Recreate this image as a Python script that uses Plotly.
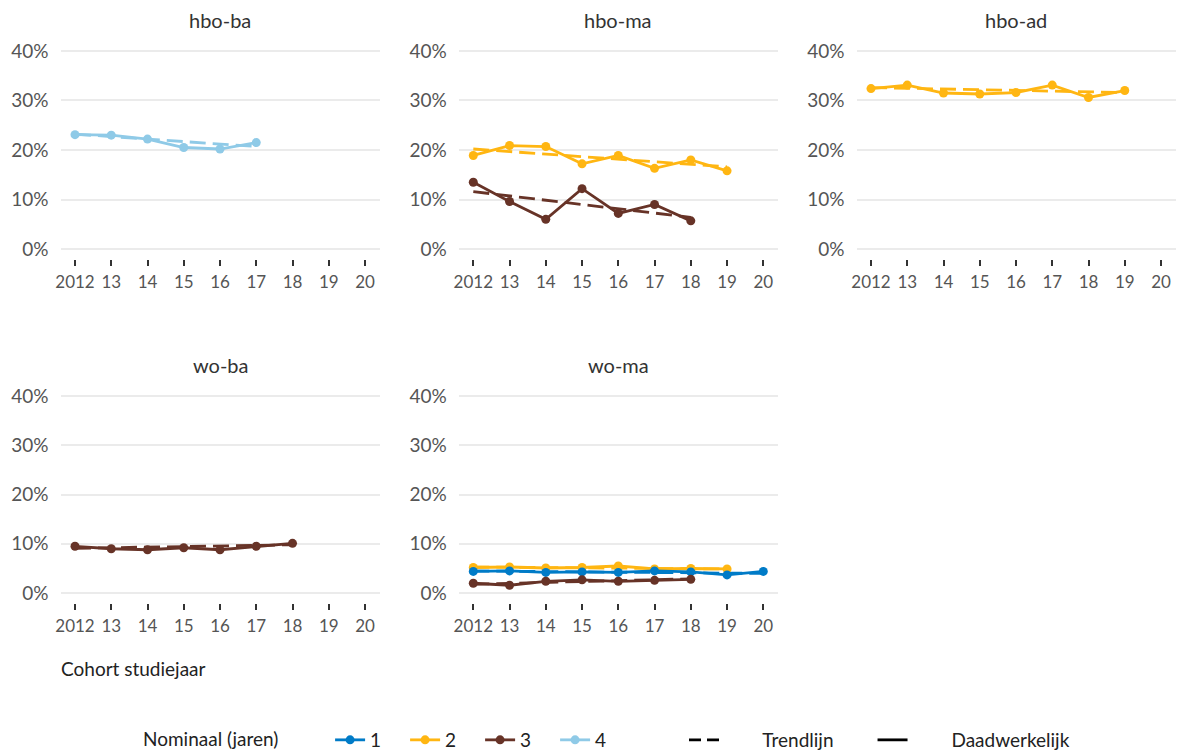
import plotly.graph_objects as go

# ---------------- data ----------------
years = [2012, 2013, 2014, 2015, 2016, 2017, 2018, 2019, 2020]
year_labels = ["2012", "13", "14", "15", "16", "17", "18", "19", "20"]
y_ticks = [0, 10, 20, 30, 40]
y_tick_labels = ["0%", "10%", "20%", "30%", "40%"]

panels = ["hbo-ba", "hbo-ma", "hbo-ad", "wo-ba", "wo-ma"]

# hbo-ba, nominaal 4 jaar
hbo_ba_4 = [23.1, 23.0, 22.2, 20.5, 20.2, 21.5]
hbo_ba_4_trend = [23.2, 20.7]
# hbo-ma, nominaal 2 en 3 jaar
hbo_ma_2 = [18.9, 20.9, 20.7, 17.2, 18.9, 16.3, 18.0, 15.8]
hbo_ma_2_trend = [20.2, 16.6]
hbo_ma_3 = [13.5, 9.6, 6.0, 12.2, 7.2, 9.0, 5.7]
hbo_ma_3_trend = [11.6, 6.4]
# hbo-ad, nominaal 2 jaar
hbo_ad_2 = [32.4, 33.1, 31.5, 31.3, 31.6, 33.1, 30.6, 32.0]
hbo_ad_2_trend = [32.6, 31.6]
# wo-ba, nominaal 3 jaar
wo_ba_3 = [9.5, 9.0, 8.8, 9.2, 8.8, 9.5, 10.1]
wo_ba_3_trend = [9.1, 9.8]
# wo-ma, nominaal 1, 2 en 3 jaar
wo_ma_1 = [4.4, 4.5, 4.2, 4.3, 4.2, 4.5, 4.3, 3.7, 4.4]
wo_ma_1_trend = [4.5, 4.0]
wo_ma_2 = [5.2, 5.3, 5.1, 5.2, 5.5, 4.9, 5.0, 4.9]
wo_ma_2_trend = [5.3, 4.9]
wo_ma_3 = [2.0, 1.6, 2.4, 2.7, 2.4, 2.6, 2.8]
wo_ma_3_trend = [1.8, 2.9]

colors = {"1": "#007bc7", "2": "#ffb612", "3": "#673327", "4": "#8fcae7"}

# (panel index, nominaal, values, trend)
series = [
    (0, "4", hbo_ba_4, hbo_ba_4_trend),
    (1, "2", hbo_ma_2, hbo_ma_2_trend),
    (1, "3", hbo_ma_3, hbo_ma_3_trend),
    (2, "2", hbo_ad_2, hbo_ad_2_trend),
    (3, "3", wo_ba_3, wo_ba_3_trend),
    (4, "2", wo_ma_2, wo_ma_2_trend),
    (4, "1", wo_ma_1, wo_ma_1_trend),
    (4, "3", wo_ma_3, wo_ma_3_trend),
]

# ---------------- layout geometry ----------------
W, H = 1179, 751
FONT = "Lato"
col_px = [(60.5, 379.5), (458.8, 777.8), (856.5, 1175.5)]
row_px = [(41, 259), (386, 603)]
panel_pos = [(0, 0), (0, 1), (0, 2), (1, 0), (1, 1)]

fig = go.Figure()

shown = set()
legend_order = {"1": 1, "2": 2, "3": 3, "4": 4}
for p, nom, vals, trend in series:
    ax = "" if p == 0 else str(p + 1)
    xs = years[:len(vals)]
    fig.add_trace(go.Scatter(
        x=[xs[0], xs[-1]], y=trend, mode="lines",
        line=dict(color=colors[nom], width=2.8, dash="16px,7px"),
        xaxis="x" + ax, yaxis="y" + ax, showlegend=False, hoverinfo="skip",
    ))
for p, nom, vals, trend in series:
    ax = "" if p == 0 else str(p + 1)
    xs = years[:len(vals)]
    fig.add_trace(go.Scatter(
        x=xs, y=vals, mode="lines+markers", name=nom,
        line=dict(color=colors[nom], width=2.8),
        marker=dict(color=colors[nom], size=9),
        xaxis="x" + ax, yaxis="y" + ax,
        legendgroup=nom, showlegend=nom not in shown,
        legendrank=legend_order[nom], legend="legend",
    ))
    shown.add(nom)

# line-type legend
pad = "&nbsp;" * 8
fig.add_trace(go.Scatter(x=[None], y=[None], mode="lines",
                         name=pad + "Trendlijn" + "&nbsp;" * 7,
                         line=dict(color="black", width=2.8, dash="12px,6px"),
                         legend="legend2", legendrank=1))
fig.add_trace(go.Scatter(x=[None], y=[None], mode="lines",
                         name=pad + "Daadwerkelijk",
                         line=dict(color="black", width=2.8),
                         legend="legend2", legendrank=2))

layout = dict(
    width=W, height=H,
    margin=dict(l=0, r=0, t=0, b=0, autoexpand=False),
    paper_bgcolor="white", plot_bgcolor="white",
    font=dict(family=FONT, size=16, color="#444"),
    showlegend=True,
)
annotations = []
for i, name in enumerate(panels):
    r, c = panel_pos[i]
    x0, x1 = col_px[c]
    y0, y1 = row_px[r]
    key = "" if i == 0 else str(i + 1)
    layout["xaxis" + key] = dict(
        domain=[x0 / W, x1 / W], range=[2011.6, 2020.4],
        anchor="y" + key, tickvals=years, ticktext=year_labels,
        showgrid=False, zeroline=False, showline=False,
        ticks="outside", ticklen=6, tickwidth=2, tickcolor="#333",
        tickfont=dict(family=FONT, size=17, color="#555"),
        ticklabelstandoff=2, fixedrange=True, automargin=False,
    )
    layout["yaxis" + key] = dict(
        domain=[1 - y1 / H, 1 - y0 / H], range=[-2, 42],
        anchor="x" + key, tickvals=y_ticks, ticktext=y_tick_labels,
        showgrid=True, gridcolor="#ebebeb", gridwidth=2,
        zeroline=False, showline=False, ticks="",
        tickfont=dict(family=FONT, size=19, color="#555"),
        ticklabelstandoff=11, fixedrange=True, automargin=False,
    )
    annotations.append(dict(
        text=name, x=(x0 + x1) / 2 / W, y=1 - (y0 - 21) / H,
        xref="paper", yref="paper", showarrow=False,
        xanchor="center", yanchor="middle",
        font=dict(family=FONT, size=20, color="#333"),
    ))

annotations.append(dict(
    text="Cohort studiejaar", x=59 / W, y=1 - 668 / H,
    xref="paper", yref="paper", showarrow=False,
    xanchor="left", yanchor="middle",
    font=dict(family=FONT, size=19, color="#222"),
))

layout["annotations"] = annotations
nb = "&nbsp;" * 9
layout["legend"] = dict(
    orientation="h", x=141 / W, y=1 - 740 / H, xanchor="left", yanchor="middle",
    title=dict(text="Nominaal (jaren)" + nb, side="left",
               font=dict(family=FONT, size=19, color="#222")),
    font=dict(family=FONT, size=19, color="#222"),
    entrywidth=30, traceorder="normal", bgcolor="rgba(0,0,0,0)",
)
layout["legend2"] = dict(
    orientation="h", x=684 / W, y=1 - 740 / H, xanchor="left", yanchor="middle",
    font=dict(family=FONT, size=19, color="#222"),
    traceorder="normal", bgcolor="rgba(0,0,0,0)",
)
fig.update_layout(**layout)

fig.write_html("out.html", config={"displayModeBar": False},
               post_script="document.body.style.margin='0px';")
